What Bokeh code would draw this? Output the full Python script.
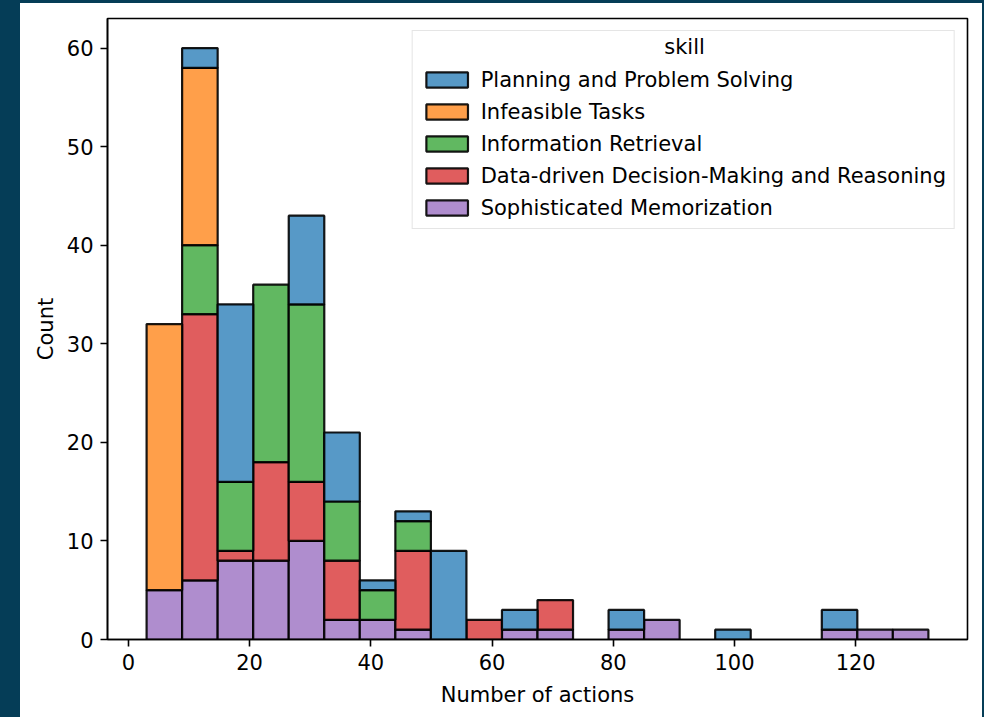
import numpy as np
from bokeh.plotting import figure
from bokeh.models import ColumnDataSource, Legend, LegendItem, Div, Range1d, FixedTicker, Label
from bokeh.layouts import column, row
from bokeh.embed import file_html
from bokeh.resources import INLINE

# ---------------- data ----------------
skills = ["Planning and Problem Solving", "Infeasible Tasks", "Information Retrieval",
          "Data-driven Decision-Making and Reasoning", "Sophisticated Memorization"]
bin_low = 3
bin_high = 132
n_bins = 22
planning    = [0, 2, 18, 0, 9, 7, 1, 1, 9, 0, 2, 0, 0, 2, 0, 0, 1, 0, 0, 2, 0, 0]
infeasible  = [27, 18, 0, 0, 0, 0, 0, 0, 0, 0, 0, 0, 0, 0, 0, 0, 0, 0, 0, 0, 0, 0]
info_retr   = [0, 7, 7, 18, 18, 6, 3, 3, 0, 0, 0, 0, 0, 0, 0, 0, 0, 0, 0, 0, 0, 0]
data_driven = [0, 27, 1, 10, 6, 6, 0, 8, 0, 2, 0, 3, 0, 0, 0, 0, 0, 0, 0, 0, 0, 0]
memorize    = [5, 6, 8, 8, 10, 2, 2, 1, 0, 0, 1, 1, 0, 1, 2, 0, 0, 0, 0, 1, 1, 1]
x_ticks = [0, 20, 40, 60, 80, 100, 120]
y_ticks = [0, 10, 20, 30, 40, 50, 60]

series = [planning, infeasible, info_retr, data_driven, memorize]
colors = ["#5799c7", "#ff9f4a", "#61b861", "#e05d5e", "#af8dce"]

edges = np.linspace(bin_low, bin_high, n_bins + 1)
span = bin_high - bin_low

FONT = "DejaVu Sans"
FS = "21px"

W, H = 962, 714
BL, BR, BT, BB = 87, 15, 15, 78

p = figure(width=W, height=H,
           x_range=Range1d(bin_low - 0.05 * span, bin_high + 0.05 * span),
           y_range=Range1d(0, 63),
           output_backend="svg", toolbar_location=None,
           min_border_left=BL, min_border_right=BR, min_border_top=BT, min_border_bottom=BB,
           background_fill_color="white", border_fill_color="white")

p.xgrid.visible = False
p.ygrid.visible = False
p.outline_line_color = "black"
p.outline_line_width = 1.6

# stacked from bottom: last skill at the bottom
renderers = {}
bottom = np.zeros(n_bins)
for name, vals, col in reversed(list(zip(skills, series, colors))):
    vals = np.array(vals, dtype=float)
    mask = vals > 0
    src = ColumnDataSource(dict(left=edges[:-1][mask], right=edges[1:][mask],
                                bottom=bottom[mask], top=(bottom + vals)[mask]))
    r = p.quad(left="left", right="right", bottom="bottom", top="top", source=src,
               fill_color=col, line_color="black", line_width=2.2, line_alpha=0.9)
    renderers[name] = r
    bottom = bottom + vals

for ax in (p.xaxis[0], p.yaxis[0]):
    ax.axis_line_color = "black"
    ax.axis_line_width = 1.6
    ax.major_tick_line_color = "black"
    ax.major_tick_line_width = 1.6
    ax.major_tick_out = 7
    ax.major_tick_in = 0
    ax.minor_tick_out = 0
    ax.minor_tick_in = 0
    ax.major_label_text_font = FONT
    ax.major_label_text_font_size = FS
    ax.major_label_text_color = "black"
    ax.axis_label_text_font = FONT
    ax.axis_label_text_font_size = FS
    ax.axis_label_text_font_style = "normal"
    ax.axis_label_text_color = "black"
    ax.major_label_standoff = 7

p.xaxis.ticker = FixedTicker(ticks=x_ticks)
p.yaxis.ticker = FixedTicker(ticks=y_ticks)
p.xaxis.axis_label = "Number of actions"
p.yaxis.axis_label = "Count"
p.xaxis.axis_label_standoff = 10
p.yaxis.axis_label_standoff = 6

LEG_MARGIN = 12
legend = Legend(items=[LegendItem(label=s, renderers=[renderers[s]]) for s in skills],
                location="top_right", margin=LEG_MARGIN, padding=8,
                title="skill", title_text_font=FONT, title_text_font_size=FS,
                title_text_font_style="normal", title_text_alpha=0, title_standoff=4,
                label_text_font=FONT, label_text_font_size=FS, label_text_color="black",
                glyph_width=52, glyph_height=19, label_standoff=8,
                label_height=25, spacing=7,
                border_line_color="#cccccc", border_line_width=1.5,
                background_fill_color="white", background_fill_alpha=0.0)
p.add_layout(legend)

# centred legend title (screen units, measured from the frame's bottom-left)
frame_w = W - BL - BR
frame_h = H - BT - BB
leg_w = 542
p.add_layout(Label(x=frame_w - LEG_MARGIN - leg_w / 2, y=frame_h - 28,
                   x_units="screen", y_units="screen", text="skill",
                   text_align="center", text_baseline="alphabetic",
                   text_font=FONT, text_font_size=FS, text_color="black"))

dark = "#053d57"
top_bar = Div(width=984, height=3, margin=0, styles={"background-color": dark})
left_bar = Div(width=20, height=H, margin=0, styles={"background-color": dark})
right_bar = Div(width=2, height=H, margin=0, styles={"background-color": dark})
page = column(top_bar, row(left_bar, p, right_bar, spacing=0), spacing=0)

open("out.html", "w").write(file_html(page, INLINE))
